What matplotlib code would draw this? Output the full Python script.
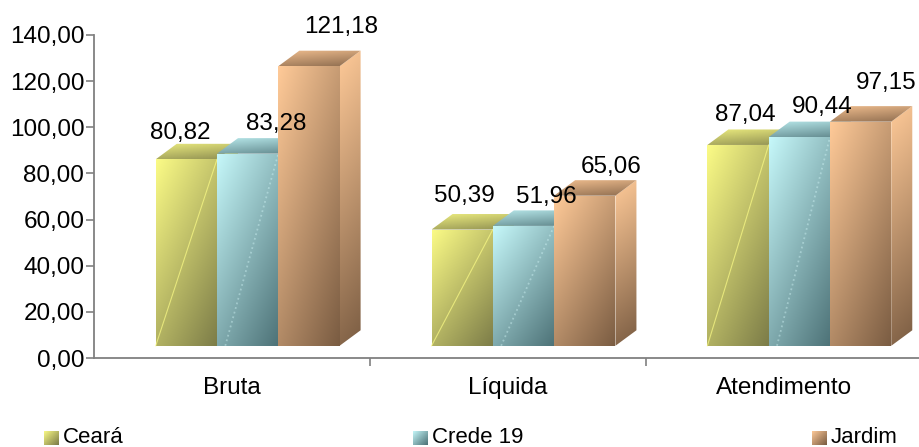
import numpy as np
import matplotlib
matplotlib.use('Agg')
import matplotlib.pyplot as plt
from matplotlib.patches import Polygon

plt.rcParams['font.family'] = ['Liberation Sans', 'DejaVu Sans']

# --- data ---
categories = ['Bruta', 'Líquida', 'Atendimento']
series_names = ['Ceará', 'Crede 19', 'Jardim']
ceara = [80.82, 50.39, 87.04]
crede = [83.28, 51.96, 90.44]
jardim = [121.18, 65.06, 97.15]
y_ticks = [0, 20, 40, 60, 80, 100, 120, 140]

# light / dark end of each gradient
light = ['#FBFB86', '#C6F8FA', '#FFCA98']
dark = ['#7C7C48', '#4D7277', '#7A5C42']

# label offsets from top centre of each bar, in pixels
label_dx = [[-6, 29, 32], [2, 23, 26], [7, 23, 26]]
label_dy = [[26, 30, 39], [34, 29, 29], [30, 30, 39]]

W, H = 920, 447
fig = plt.figure(figsize=(W / 100, H / 100), dpi=100)
ax = fig.add_axes([94 / W, 1 - 358 / H, 827.5 / W, 323 / H])

bar_w = 0.2222
shift = 0.0571     # front of the bars sits right of the category centre
base = 5.3         # 3D floor above the axis
depth_x = 21 / 275.8
depth_y = 15.5 / 2.307


def mix(c0, c1, t):
    c0 = np.array(matplotlib.colors.to_rgb(c0))
    c1 = np.array(matplotlib.colors.to_rgb(c1))
    t = np.clip(t, 0, 1)[..., None]
    return c0 * (1 - t) + c1 * t


def shade(verts, c0, c1, wx, wy, z):
    verts = np.array(verts)
    x0, x1 = verts[:, 0].min(), verts[:, 0].max()
    y0, y1 = verts[:, 1].min(), verts[:, 1].max()
    u, v = np.meshgrid(np.linspace(0, 1, 60), np.linspace(0, 1, 120))
    # v runs from the top of the image to the bottom
    im = ax.imshow(mix(c0, c1, u * wx + v * wy), extent=[x0, x1, y0, y1],
                   origin='upper', aspect='auto', zorder=z, interpolation='bilinear')
    poly = Polygon(verts, closed=True, transform=ax.transData, fc='none', ec='none')
    ax.add_patch(poly)
    im.set_clip_path(poly)


def draw_bar(x, val, s, z):
    xl, xr = x, x + bar_w
    lo, hi = light[s], dark[s]
    # right side
    shade([(xr, base), (xr + depth_x, base + depth_y), (xr + depth_x, val + base + depth_y), (xr, val + base)],
          lo, hi, 0.1, 0.9, z)
    # top
    shade([(xl, val + base), (xr, val + base), (xr + depth_x, val + base + depth_y), (xl + depth_x, val + base + depth_y)],
          mix(lo, hi, np.array(0.12)), mix(lo, hi, np.array(0.85)), 0.3, 0.7, z)
    # front
    shade([(xl, base), (xr, base), (xr, val + base), (xl, val + base)], lo, hi, 0.42, 0.58, z + 0.1)
    # streaks left by the gradient in the first two series
    if s == 0:
        ax.plot([xl, xr], [base, val + base], color=lo, lw=0.8, alpha=0.7, zorder=z + 0.2)
    elif s == 1:
        ax.plot([xl + 0.03, xr], [base, val + base], color='#D8FBFC', lw=1.3, ls=':', alpha=0.4, zorder=z + 0.2)


all_series = [ceara, crede, jardim]
for g in range(len(categories)):
    for s, vals in enumerate(all_series):
        x = g + shift - 1.5 * bar_w + s * bar_w
        draw_bar(x, vals[g], s, 2 + s + g * 3)
        text = f'{vals[g]:.2f}'.replace('.', ',')
        ax.annotate(text, (x + bar_w / 2, vals[g] + base), xytext=(label_dx[g][s], label_dy[g][s]),
                    textcoords='offset pixels', ha='center', va='center', fontsize=17.5,
                    color='black', zorder=30, annotation_clip=False)

ax.set_xlim(-0.5, 2.5)
ax.set_ylim(0, 140)
ax.set_yticks(y_ticks)
ax.set_yticklabels([f'{v},00' for v in y_ticks], fontsize=17.5)
ax.set_xticks([0.5, 1.5, 2.5], minor=False)
ax.set_xticklabels([])
ax.tick_params(axis='both', color='#808080', width=1.2, length=6, pad=1)
for g, name in enumerate(categories):
    ax.text(g, -13, name, ha='center', va='center', fontsize=17.5, clip_on=False)
ax.spines['top'].set_visible(False)
ax.spines['right'].set_visible(False)
for side in ['left', 'bottom']:
    ax.spines[side].set_color('#808080')
    ax.spines[side].set_linewidth(1.3)

# legend drawn by hand, the entries are spread over the whole width
legend_x = [44, 413, 812]
for s, name in enumerate(series_names):
    lax = fig.add_axes([legend_x[s] / W, 1 - 445 / H, 14.5 / W, 14.5 / H])
    u, v = np.meshgrid(np.linspace(0, 1, 20), np.linspace(0, 1, 20))
    lax.imshow(mix(light[s], dark[s], u * 0.5 + v * 0.5), aspect='auto', interpolation='bilinear')
    lax.axis('off')
    fig.text((legend_x[s] + 19) / W, 1 - 437.5 / H, name, ha='left', va='center', fontsize=16)

fig.savefig('out.png', dpi=100)
